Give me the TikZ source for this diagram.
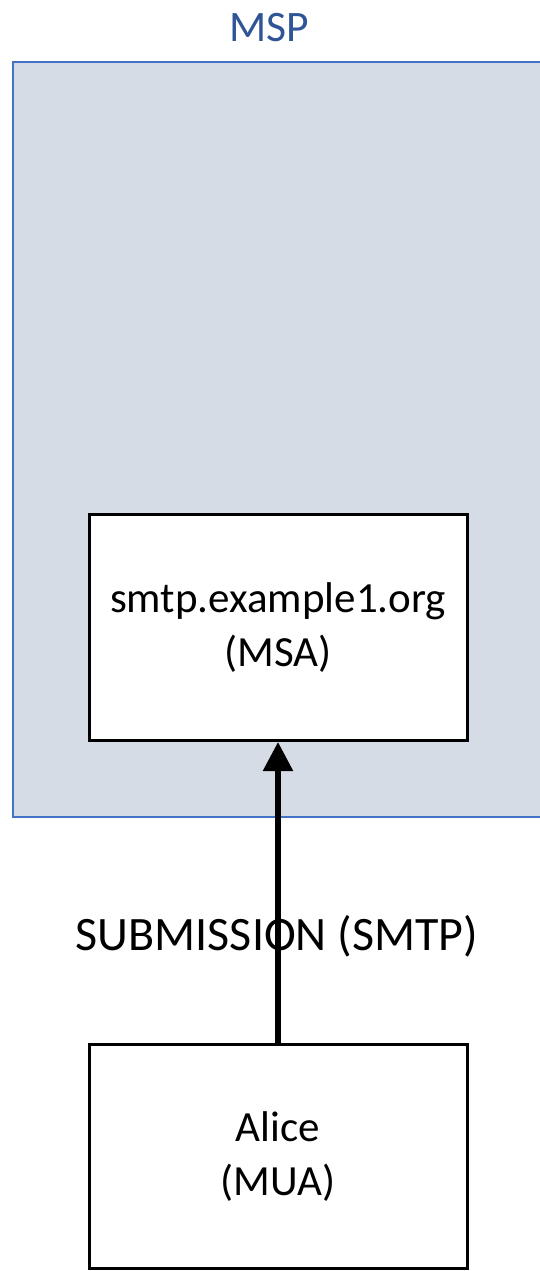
\documentclass[tikz,border=0pt]{standalone}
\usepackage{fontspec}
\setmainfont{Carlito}
\usetikzlibrary{arrows.meta}
\definecolor{mspfill}{HTML}{D6DCE5}
\definecolor{mspline}{HTML}{4472C4}
\definecolor{msptext}{HTML}{2F5597}
\tikzset{
  agentbox/.style={draw=black, line width=3pt, fill=white, minimum width=378pt,
    align=center, inner sep=0pt, font=\fontsize{43}{54}\selectfont},
  flowlabel/.style={font=\fontsize{48}{56}\selectfont, inner sep=0pt},
  flow/.style={line width=5.5pt, -{Triangle[length=29pt,width=29pt]}}
}
\begin{document}
\begin{tikzpicture}[x=1pt,y=-1pt]
  \path[use as bounding box] (0,0) rectangle (540,1271);
  % provider area, running off the right edge
  \begin{scope}
    \clip (0,0) rectangle (540,1271);
    \draw[mspline, fill=mspfill, line width=2pt] (13,62) rectangle (560,817);
  \end{scope}
  \node[text=msptext, font=\fontsize{43.5}{50}\selectfont, inner sep=0pt] (msp) at (269,28) {MSP};
  % agents
  \node[agentbox, minimum height=226pt] (msa) at (278,627.5) {smtp.example1.org\\(MSA)};
  \node[agentbox, minimum height=224pt] (mua) at (278,1156.5) {Alice\\(MUA)};
  % submission
  \node[flowlabel] (sub) at (277,936) {SUBMISSION (SMTP)};
  \draw[flow] (mua.north) -- (msa.south);
\end{tikzpicture}
\end{document}
